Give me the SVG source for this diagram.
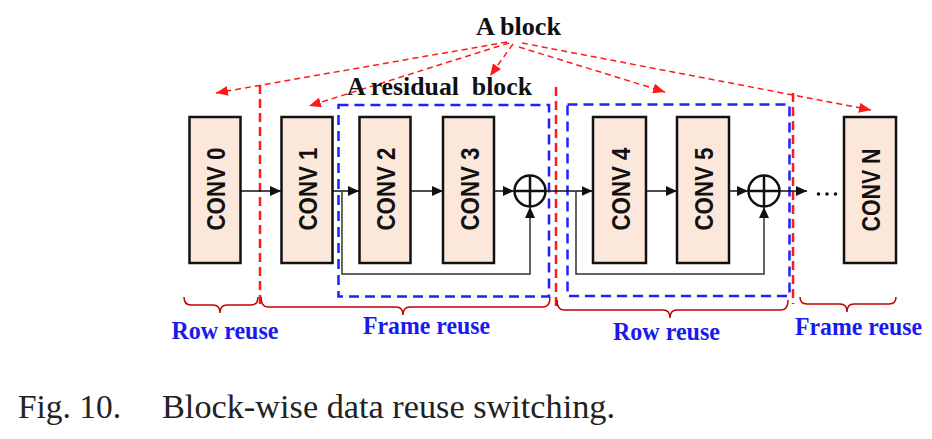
<svg xmlns="http://www.w3.org/2000/svg" width="932" height="439" viewBox="0 0 932 439">
<defs>
<style>
.box{fill:#fce8da;stroke:#111;stroke-width:2.5}
.lbl{font-family:"Liberation Sans",Arial,sans-serif;font-weight:bold;font-size:25px;fill:#111;text-anchor:middle}
.flow{stroke:#111;stroke-width:1.5;fill:none}
.skip{stroke:#333;stroke-width:1.5;fill:none}
.sum{fill:#fff;stroke:#111;stroke-width:2.5}
.cross{stroke:#111;stroke-width:2.5}
.rdash{stroke:#ff1a1a;stroke-width:2.5;stroke-dasharray:9,5;fill:none}
.bdash{stroke:#2020ff;stroke-width:2.5;stroke-dasharray:10,6;fill:none}
.ptr{stroke:#ff1a1a;stroke-width:1.5;stroke-dasharray:6,4;fill:none}
.brace{stroke:#c00000;stroke-width:1.5;fill:none}
.blue{font-family:"Liberation Serif","Times New Roman",serif;font-weight:bold;font-size:25px;fill:#1a1aee;text-anchor:middle}
.title{font-family:"Liberation Serif","Times New Roman",serif;font-weight:bold;font-size:25.5px;fill:#111;text-anchor:middle}
.cap{font-family:"Liberation Serif","Times New Roman",serif;font-size:34px;fill:#222}
</style>
<marker id="ah" markerUnits="userSpaceOnUse" markerWidth="12" markerHeight="10" refX="11" refY="5" orient="auto">
<path d="M0,0 L11,5 L0,10 z" fill="#111"/>
</marker>
<marker id="rh" markerUnits="userSpaceOnUse" markerWidth="13" markerHeight="10" refX="12" refY="5" orient="auto">
<path d="M0,0 L12,5 L0,10 z" fill="#ff1a1a"/>
</marker>
</defs>
<rect width="932" height="439" fill="#fff"/>

<g id="regions">
<rect class="bdash" x="338.5" y="105" width="210.5" height="191.5"/>
<rect class="bdash" x="567.5" y="104.5" width="222" height="191.5"/>
<line class="rdash" x1="260" y1="85" x2="260" y2="304"/>
<line class="rdash" x1="556" y1="87" x2="556" y2="306"/>
<line class="rdash" x1="793" y1="93" x2="793" y2="304"/>
</g>

<g id="connectors">
<line class="flow" x1="241" y1="191" x2="281" y2="191" marker-end="url(#ah)"/>
<line class="flow" x1="333" y1="191" x2="359" y2="191" marker-end="url(#ah)"/>
<line class="flow" x1="411" y1="191" x2="443" y2="191" marker-end="url(#ah)"/>
<line class="flow" x1="494" y1="191" x2="514" y2="191" marker-end="url(#ah)"/>
<line class="flow" x1="546" y1="191" x2="592.5" y2="191" marker-end="url(#ah)"/>
<line class="flow" x1="646" y1="191" x2="677" y2="191" marker-end="url(#ah)"/>
<line class="flow" x1="729" y1="191" x2="748" y2="191" marker-end="url(#ah)"/>
<line class="flow" x1="780" y1="191" x2="807" y2="191" marker-end="url(#ah)"/>
<polyline class="skip" points="342,191 342,274 530,274 530,207" marker-end="url(#ah)"/>
<polyline class="skip" points="576,191 576,274 764,274 764,207" marker-end="url(#ah)"/>
<line class="ptr" x1="507" y1="42" x2="216" y2="93" marker-end="url(#rh)"/>
<line class="ptr" x1="509" y1="43" x2="309" y2="106" marker-end="url(#rh)"/>
<line class="ptr" x1="513" y1="44" x2="490" y2="76" marker-end="url(#rh)"/>
<line class="ptr" x1="519" y1="47" x2="665" y2="92" marker-end="url(#rh)"/>
<line class="ptr" x1="522" y1="43" x2="871" y2="110" marker-end="url(#rh)"/>
</g>

<g id="conv0"><rect class="box" x="189.5" y="117" width="51" height="146"/><text class="lbl" transform="translate(225,189) rotate(-90)" textLength="83" lengthAdjust="spacingAndGlyphs">CONV 0</text></g>
<g id="conv1"><rect class="box" x="281.5" y="117" width="51" height="146"/><text class="lbl" transform="translate(317,189) rotate(-90)" textLength="83" lengthAdjust="spacingAndGlyphs">CONV 1</text></g>
<g id="conv2"><rect class="box" x="359.5" y="117" width="51" height="146"/><text class="lbl" transform="translate(395,189) rotate(-90)" textLength="83" lengthAdjust="spacingAndGlyphs">CONV 2</text></g>
<g id="conv3"><rect class="box" x="443" y="117" width="51" height="146"/><text class="lbl" transform="translate(478.5,189) rotate(-90)" textLength="83" lengthAdjust="spacingAndGlyphs">CONV 3</text></g>
<g id="sum1"><circle class="sum" cx="530" cy="191" r="15.5"/><line class="cross" x1="514.5" y1="191" x2="545.5" y2="191"/><line class="cross" x1="530" y1="175.5" x2="530" y2="206.5"/></g>
<g id="conv4"><rect class="box" x="593" y="117" width="53" height="146"/><text class="lbl" transform="translate(629.5,189) rotate(-90)" textLength="83" lengthAdjust="spacingAndGlyphs">CONV 4</text></g>
<g id="conv5"><rect class="box" x="677" y="117" width="52" height="146"/><text class="lbl" transform="translate(713,189) rotate(-90)" textLength="83" lengthAdjust="spacingAndGlyphs">CONV 5</text></g>
<g id="sum2"><circle class="sum" cx="764" cy="191" r="15.5"/><line class="cross" x1="748.5" y1="191" x2="779.5" y2="191"/><line class="cross" x1="764" y1="175.5" x2="764" y2="206.5"/></g>
<g id="ellipsis"><circle cx="818.5" cy="194" r="1.8" fill="#111"/><circle cx="827" cy="194" r="1.8" fill="#111"/><circle cx="835.5" cy="194" r="1.8" fill="#111"/></g>
<g id="convN"><rect class="box" x="844" y="117" width="52" height="146"/><text class="lbl" transform="translate(880,190) rotate(-90)" textLength="83" lengthAdjust="spacingAndGlyphs">CONV N</text></g>

<g id="labels">
<text class="title" x="518.5" y="35" textLength="85" lengthAdjust="spacingAndGlyphs">A block</text>
<text class="title" x="439.5" y="95" textLength="185" lengthAdjust="spacingAndGlyphs" xml:space="preserve">A residual  block</text>
</g>

<g id="braces">
<path class="brace" d="M184,297 Q184,305 191,305 L213,305 Q220,305 220,313 Q220,305 227,305 L251,305 Q258,305 258,297"/>
<path class="brace" d="M261,297 Q261,307 268,307 L396,307 Q403,307 403,315 Q403,307 410,307 L543,307 Q550,307 550,297"/>
<path class="brace" d="M557,300 Q557,310 564,310 L663,310 Q670,310 670,318 Q670,310 677,310 L781,310 Q788,310 788,300"/>
<path class="brace" d="M800,297 Q800,304 807,304 L840,304 Q847,304 847,312 Q847,304 854,304 L889,304 Q896,304 896,297"/>
</g>

<g id="reuse-labels">
<text class="blue" x="225" y="339" textLength="107" lengthAdjust="spacingAndGlyphs">Row reuse</text>
<text class="blue" x="426.5" y="334" textLength="127" lengthAdjust="spacingAndGlyphs">Frame reuse</text>
<text class="blue" x="666.5" y="340" textLength="107" lengthAdjust="spacingAndGlyphs">Row reuse</text>
<text class="blue" x="858.5" y="335" textLength="127" lengthAdjust="spacingAndGlyphs">Frame reuse</text>
</g>

<g id="caption">
<text class="cap" y="418"><tspan x="18" textLength="103" lengthAdjust="spacingAndGlyphs">Fig. 10.</tspan><tspan x="162" textLength="453" lengthAdjust="spacingAndGlyphs">Block-wise data reuse switching.</tspan></text>
</g>
</svg>
